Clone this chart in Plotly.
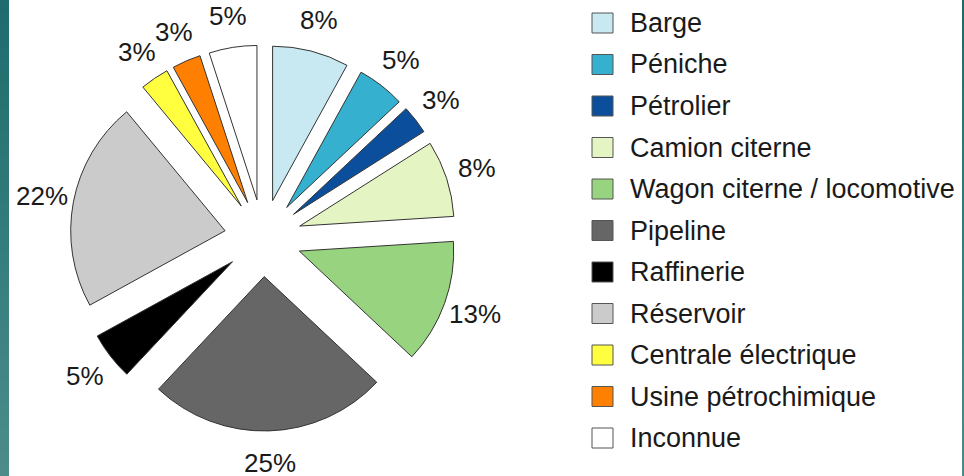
import math
import plotly.graph_objects as go

categories = ["Barge", "Péniche", "Pétrolier", "Camion citerne",
              "Wagon citerne / locomotive", "Pipeline", "Raffinerie",
              "Réservoir", "Centrale électrique", "Usine pétrochimique", "Inconnue"]
values = [8, 5, 3, 8, 13, 25, 5, 22, 3, 3, 5]
colors = ["#C8E9F1", "#35B1CF", "#0B4F9C", "#E4F4C2", "#98D47F", "#666666",
          "#000000", "#CBCBCB", "#FFFF40", "#FF8000", "#FFFFFF"]

W, H = 964, 476
FONT = "Liberation Sans, Arial, sans-serif"

# pie geometry (pixels)
CX, CY = 263.0, 238.0
HALF = 193.0           # radius * (1 + pull)
PULL = 0.25
LABEL_DIST = 225.0

fig = go.Figure()
fig.add_trace(go.Pie(
    labels=categories, values=values, sort=False, direction="clockwise",
    rotation=0, pull=[PULL] * len(values), automargin=False,
    marker=dict(colors=colors, line=dict(color="#333333", width=1)),
    textinfo="none",
    domain=dict(x=[(CX - 200) / W, (CX + 200) / W],
                y=[1 - (CY + HALF) / H, 1 - (CY - HALF) / H]),
    showlegend=False, hoverinfo="label+percent",
))

annotations = []
# percentage labels along each slice bisector
total = sum(values)
cum = 0.0
for v in values:
    mid = (cum + v / 2) / total * 2 * math.pi
    cum += v
    px = CX + LABEL_DIST * math.sin(mid)
    py = CY - LABEL_DIST * math.cos(mid)
    annotations.append(dict(text="%d%%" % round(v / total * 100), xref="paper", yref="paper",
                            x=px / W, y=1 - py / H, xanchor="center", yanchor="middle",
                            showarrow=False,
                            font=dict(family=FONT, size=26, color="#1a1a1a")))

shapes = []
# left teal gradient bar and right thin bar
n = 40
top = (0x1E, 0x6C, 0x6E)
bot = (0x4B, 0x8C, 0x8A)
for i in range(n):
    t = i / (n - 1)
    c = tuple(int(round(top[k] + (bot[k] - top[k]) * t)) for k in range(3))
    col = "rgb(%d,%d,%d)" % c
    y1 = 1 - i / n
    y0 = 1 - (i + 1) / n - 0.002
    shapes.append(dict(type="rect", xref="paper", yref="paper", x0=0, x1=9 / W,
                       y0=y0, y1=y1, fillcolor=col, line=dict(width=0), layer="above"))
    shapes.append(dict(type="rect", xref="paper", yref="paper", x0=962 / W, x1=1,
                       y0=y0, y1=y1, fillcolor=col, line=dict(width=0), layer="above"))

# legend
row0, step = 23.0, 41.5
for i, (cat, col) in enumerate(zip(categories, colors)):
    cy = row0 + step * i
    shapes.append(dict(type="rect", xref="paper", yref="paper",
                       x0=592 / W, x1=613 / W, y0=1 - (cy + 10) / H, y1=1 - (cy - 10) / H,
                       fillcolor=col, line=dict(color="#555555", width=1)))
    annotations.append(dict(text=cat, xref="paper", yref="paper", x=628 / W, y=1 - cy / H,
                            xanchor="left", yanchor="middle", showarrow=False,
                            font=dict(family=FONT, size=27, color="#1a1a1a")))

fig.update_layout(
    width=W, height=H, margin=dict(l=0, r=0, t=0, b=0, autoexpand=False),
    paper_bgcolor="white", plot_bgcolor="white",
    shapes=shapes, annotations=annotations,
)
fig.write_html("out.html", config={"displayModeBar": False},
               post_script="document.body.style.margin='0px';")
